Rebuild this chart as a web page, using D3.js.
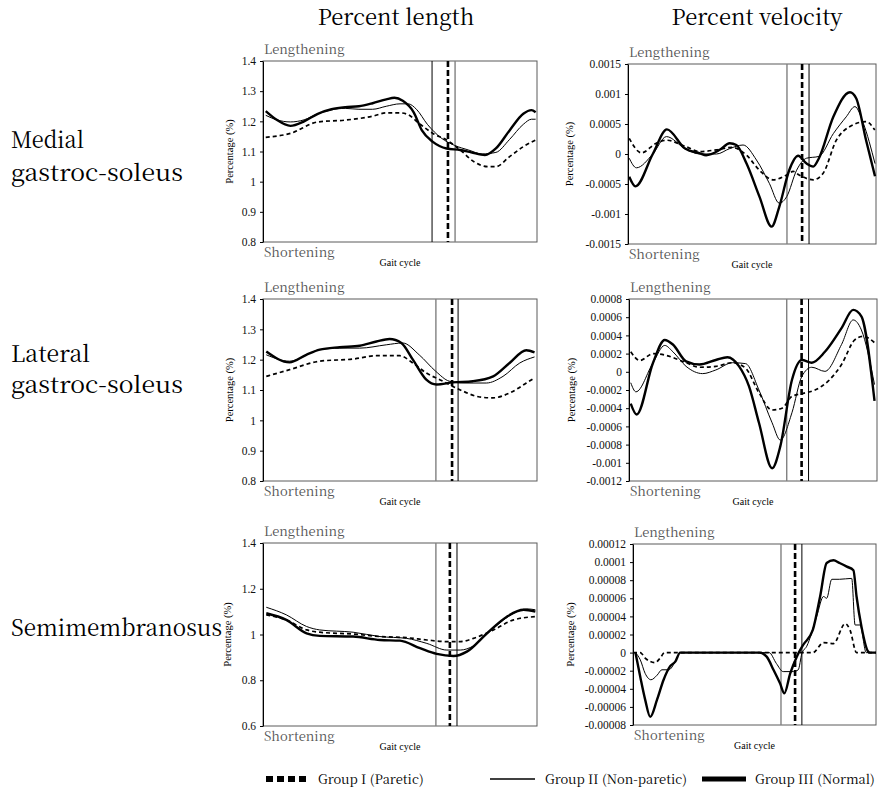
<!DOCTYPE html>
<html><head><meta charset="utf-8">
<script src="https://cdn.jsdelivr.net/npm/d3@7"></script>
<style>
body{margin:0;background:#fff}
svg{display:block}
</style>
</head><body>
<svg id="c" width="881" height="796"></svg>
<script>
// ---------------- DATA ----------------
const colTitles = ["Percent length", "Percent velocity"];
const rowLabels = [["Medial", "gastroc-soleus"], ["Lateral", "gastroc-soleus"], ["Semimembranosus"]];
const groupNames = ["Group I (Paretic)", "Group II (Non-paretic)", "Group III (Normal)"];
const topLabel = "Lengthening", bottomLabel = "Shortening", xTitle = "Gait cycle", yTitle = "Percentage (%)";

const lenTicks = [0.8, 0.9, 1.0, 1.1, 1.2, 1.3, 1.4];
const lenTickLabels = ["0.8", "0.9", "1", "1.1", "1.2", "1.3", "1.4"];
const mgVelTicks = [-0.0015, -0.001, -0.0005, 0, 0.0005, 0.001, 0.0015];
const mgVelTickLabels = ["-0.0015", "-0.001", "-0.0005", "0", "0.0005", "0.001", "0.0015"];
const lgVelTicks = [-0.0012, -0.001, -0.0008, -0.0006, -0.0004, -0.0002, 0, 0.0002, 0.0004, 0.0006, 0.0008];
const lgVelTickLabels = ["-0.0012", "-0.001", "-0.0008", "-0.0006", "-0.0004", "-0.0002", "0", "0.0002", "0.0004", "0.0006", "0.0008"];
const smLenTicks = [0.6, 0.8, 1.0, 1.2, 1.4];
const smLenTickLabels = ["0.6", "0.8", "1", "1.2", "1.4"];
const smVelTicks = [-0.00008, -0.00006, -0.00004, -0.00002, 0, 0.00002, 0.00004, 0.00006, 0.00008, 0.0001, 0.00012];
const smVelTickLabels = ["-0.00008", "-0.00006", "-0.00004", "-0.00002", "0", "0.00002", "0.00004", "0.00006", "0.00008", "0.0001", "0.00012"];

// [gait cycle %, value]
const mgLenG1 = [[1,1.147],[10,1.16],[20,1.198],[30,1.204],[40,1.217],[45,1.228],[50,1.228],[53,1.222],[57,1.193],[62,1.16],[67,1.138],[72,1.105],[77,1.066],[82,1.05],[85,1.05],[90,1.083],[95,1.116],[99.5,1.138]];
const mgLenG2 = [[1,1.22],[5,1.205],[10,1.198],[15,1.205],[20,1.225],[25,1.238],[30,1.243],[35,1.24],[40,1.24],[45,1.25],[50,1.258],[53,1.258],[56,1.24],[60,1.19],[65,1.145],[70,1.12],[75,1.105],[80,1.092],[85,1.097],[90,1.14],[95,1.19],[98,1.207],[99.5,1.207]];
const mgLenG3 = [[1,1.234],[5,1.205],[10,1.185],[15,1.2],[20,1.225],[25,1.24],[30,1.247],[35,1.25],[40,1.26],[45,1.273],[48,1.278],[51,1.268],[55,1.23],[58,1.17],[62,1.132],[67,1.11],[72,1.105],[76,1.097],[81,1.088],[85,1.11],[90,1.17],[95,1.225],[98,1.237],[99.5,1.23]];

// velocity values in units of 1e-4
const mgVelG1 = [[0.5,2.6],[5.4,0.2],[11.4,1.8],[15.5,2.3],[23.5,1.2],[29,0.4],[35.7,0.7],[42,1.1],[47.8,-0.2],[53,-2.7],[58.5,-4.3],[64,-3.5],[66.6,-2.9],[69,-3.5],[74.7,-4.3],[78.7,-3.2],[84,2.3],[89.5,4.6],[96,5.4],[99.5,4.0]];
const mgVelG2 = [[0.5,-0.7],[3.4,-2.3],[10,0],[15.5,2.9],[23,0.9],[29,0],[35.7,0],[41,0.9],[46.4,1.5],[51.8,-1.0],[57,-4.9],[61,-8.2],[64,-7.1],[68,-2.7],[72,-0.7],[77,-0.4],[82.8,3.4],[88,6.2],[91.5,7.9],[94.9,5.1],[99.6,-1.6]];
const mgVelG3 = [[0.5,-3.8],[3,-5.4],[10,0],[15.7,4.1],[23,0.9],[29,0.1],[31.5,-0.2],[37,0.7],[41,1.8],[43.7,1.5],[47.8,-1.6],[53,-7.1],[57.9,-12.1],[61,-8.8],[65,-2.7],[68.6,-0.3],[72,-1.6],[74.7,-2.1],[77,-0.7],[82.8,6.2],[89.5,10.3],[92,9.3],[96,2.3],[99.6,-3.7]];

const lgLenG1 = [[1.2,1.145],[9.7,1.167],[20.7,1.195],[32.8,1.202],[41.4,1.213],[49.9,1.213],[54.7,1.189],[59.6,1.156],[64.5,1.134],[71.8,1.101],[79.1,1.077],[83.9,1.074],[90,1.09],[96.1,1.123],[99.1,1.14]];
const lgLenG2 = [[1.2,1.216],[9.7,1.195],[20.7,1.233],[28,1.238],[35.3,1.238],[45,1.249],[51,1.255],[57,1.216],[63,1.162],[68,1.129],[73,1.123],[81.5,1.123],[87.6,1.145],[93.7,1.189],[99.1,1.209]];
const lgLenG3 = [[1.2,1.227],[9.7,1.191],[15.8,1.216],[20.7,1.233],[28,1.241],[35.3,1.246],[41.4,1.26],[46.2,1.268],[50.5,1.255],[54.7,1.2],[59.6,1.134],[63.3,1.118],[69.3,1.125],[76.6,1.129],[84,1.145],[90,1.189],[96.1,1.231],[99.1,1.224]];

const lgVelG1 = [[0.7,2.2],[4.4,1.25],[9.7,2.0],[15,1.8],[23,1.0],[28.4,0.5],[35,0.6],[41.7,1.0],[47,0.4],[52.4,-2.3],[57.7,-4.2],[61.7,-4.0],[65.7,-2.7],[69.7,-2.4],[75,-2.0],[80.4,-1.0],[85.7,0.8],[91,3.5],[94.4,3.9],[99,3.2]];
const lgVelG2 = [[0.7,-1.2],[2.8,-2.2],[9.7,1.0],[14.4,2.9],[17.7,2.2],[23,0.6],[29.7,-0.2],[35,0.2],[41.7,1.0],[47,0.9],[52.4,-2.0],[57.7,-5.6],[61,-7.5],[65.7,-4.5],[69.7,-0.5],[73.7,0.5],[79,0.05],[85.7,3.0],[90.4,5.7],[93.7,4.6],[99,-1.4]];
const lgVelG3 = [[0.7,-3.5],[3.1,-4.7],[9.7,1.0],[14.4,3.5],[17.7,3.0],[23,1.15],[28.4,0.8],[35,1.3],[39.7,1.6],[44.4,0.6],[48.4,-1.6],[52.4,-5.6],[57.7,-10.6],[61,-8.2],[65.7,-0.9],[69.7,1.3],[73.7,1.0],[79,2.2],[85.7,4.8],[90.4,6.8],[93.7,6.1],[99,-3.2]];

const smLenG1 = [[1.2,1.086],[8.5,1.064],[15.9,1.02],[20.7,1.01],[32.9,1.002],[42.7,0.991],[52.4,0.986],[59.8,0.976],[67.1,0.969],[72,0.969],[76.8,0.983],[84.1,1.02],[91.5,1.064],[99.4,1.078]];
const smLenG2 = [[1.2,1.119],[8.5,1.086],[15.9,1.035],[20.7,1.02],[32.9,1.01],[42.7,0.991],[52.4,0.983],[59.8,0.961],[67.1,0.932],[72,0.932],[76.8,0.95],[84.1,1.027],[91.5,1.093],[96.3,1.112],[99.4,1.108]];
const smLenG3 = [[1.2,1.093],[8.5,1.064],[15.9,1.005],[20.7,0.994],[32.9,0.991],[42.7,0.976],[50,0.973],[57.3,0.94],[63.4,0.915],[69.5,0.906],[74.4,0.925],[81.7,1.005],[89,1.078],[95.1,1.108],[99.4,1.1]];

// velocity values in units of 1e-5
const smVelG1 = [[0,0],[3,0],[5,-0.6],[9,-1.1],[11.2,-0.6],[13,0],[74,0],[78.4,1.1],[82.5,1.0],[87.3,3.2],[89.3,2.5],[92,0],[100,0]];
const smVelG2 = [[1,0],[3,-0.8],[5,-2.3],[7.4,-3.0],[9.9,-2.5],[11.9,-1.9],[14.7,-1.9],[17.4,-1.0],[19.4,0],[56,0],[59,-1.2],[61.8,-2.1],[66,-2.1],[68,-1.9],[69.5,-0.1],[71.5,0.7],[75.6,4.0],[78.4,6.2],[79.7,6.0],[81.8,8.1],[85,8.1],[90,8.2],[91.4,3.05],[93.4,3.05],[96,0],[100,0]];
const smVelG3 = [[1,0],[3,-2.7],[5,-5.2],[7.1,-7.1],[9.9,-5.2],[12.6,-3.0],[15.3,-1.5],[17.4,-1.0],[19.4,0],[52,0],[55,-0.45],[57.8,-1.9],[60.5,-3.4],[62.3,-4.5],[64.7,-2.3],[67.4,-0.45],[70,0.84],[74,2.5],[77,6.2],[79.7,9.9],[82.5,10.2],[85,9.9],[88,9.5],[90.7,9.1],[92,6.2],[94,2.9],[96.8,0.1],[97.5,0],[100,0]];

// toe-off markers (% gait cycle) for groups I, II, III
const mgLenToeOff = [67.5, 61.7, 70.1];
const mgVelToeOff = [70.2, 73.0, 64.1];
const lgLenToeOff = [69.0, 71.2, 63.1];
const lgVelToeOff = [69.6, 72.4, 63.6];
const smLenToeOff = [68.2, 70.8, 63.1];
const smVelToeOff = [66.7, 69.5, 60.9];

// ---------------- LAYOUT ----------------
const panels = [
  {x0:263,x1:537,y0:61,y1:242, dom:[0.8,1.4], k:1, ticks:lenTicks, labs:lenTickLabels, s:[mgLenG1,mgLenG2,mgLenG3], to:mgLenToeOff, ylx:230},
  {x0:628,x1:876,y0:64,y1:244, dom:[-0.0015,0.0015], k:1e-4, ticks:mgVelTicks, labs:mgVelTickLabels, s:[mgVelG1,mgVelG2,mgVelG3], to:mgVelToeOff, ylx:570},
  {x0:263,x1:537,y0:299,y1:481, dom:[0.8,1.4], k:1, ticks:lenTicks, labs:lenTickLabels, s:[lgLenG1,lgLenG2,lgLenG3], to:lgLenToeOff, ylx:230},
  {x0:629,x1:877,y0:299,y1:481, dom:[-0.0012,0.0008], k:1e-4, ticks:lgVelTicks, labs:lgVelTickLabels, s:[lgVelG1,lgVelG2,lgVelG3], to:lgVelToeOff, ylx:572},
  {x0:263,x1:537,y0:543,y1:726, dom:[0.6,1.4], k:1, ticks:smLenTicks, labs:smLenTickLabels, s:[smLenG1,smLenG2,smLenG3], to:smLenToeOff, ylx:228},
  {x0:633,x1:876,y0:544,y1:725, dom:[-0.00008,0.00012], k:1e-5, ticks:smVelTicks, labs:smVelTickLabels, s:[smVelG1,smVelG2,smVelG3], to:smVelToeOff, ylx:571}
];

const seriesStyle = [
  {w:1.7, dash:"4,3"},
  {w:1.0, dash:null},
  {w:2.4, dash:null}
];
const toeStyle = [
  {c:"#000", w:2.6, dash:"6,3"},
  {c:"#000", w:1.0, dash:null},
  {c:"#808080", w:1.4, dash:null}
];
const TIMES = "'Liberation Serif',serif";
const MYEONGJO = "'Noto Serif CJK KR','Liberation Serif',serif";

const svg = d3.select("#c");

panels.forEach(p => {
  const x = d3.scaleLinear().domain([0,100]).range([p.x0,p.x1]);
  const y = d3.scaleLinear().domain(p.dom).range([p.y1,p.y0]);
  const g = svg.append("g");
  g.append("rect").attr("x",p.x0).attr("y",p.y0).attr("width",p.x1-p.x0).attr("height",p.y1-p.y0)
    .attr("fill","none").attr("stroke","#5a5a5a").attr("stroke-width",1);
  const ax = d3.axisLeft(y).tickValues(p.ticks).tickFormat(d => p.labs[p.ticks.indexOf(d)])
    .tickSize(3).tickSizeOuter(0).tickPadding(4);
  const axg = g.append("g").attr("transform",`translate(${p.x0},0)`).call(ax);
  axg.select(".domain").attr("stroke","#000");
  axg.selectAll(".tick line").attr("stroke","#000");
  axg.selectAll(".tick text").style("font-family",TIMES).attr("font-size",11.5).attr("fill","#111");

  p.to.forEach((v,i) => {
    const st = toeStyle[i];
    g.append("line").attr("x1",x(v)).attr("x2",x(v)).attr("y1",p.y0).attr("y2",p.y1)
      .attr("stroke",st.c).attr("stroke-width",st.w).attr("stroke-dasharray",st.dash);
  });

  const line = d3.line().x(d => x(d[0])).y(d => y(d[1]*p.k)).curve(d3.curveMonotoneX);
  p.s.forEach((ser,i) => {
    const st = seriesStyle[i];
    g.append("path").datum(ser).attr("d",line).attr("fill","none").attr("stroke","#000")
      .attr("stroke-width",st.w).attr("stroke-dasharray",st.dash).attr("stroke-linejoin","round");
  });

  g.append("text").attr("x",p.x0+1).attr("y",p.y0-7).attr("font-size",13).attr("fill","#555")
    .style("font-family",MYEONGJO).text(topLabel);
  g.append("text").attr("x",p.x0+1).attr("y",p.y1+15).attr("font-size",13).attr("fill","#555")
    .style("font-family",MYEONGJO).text(bottomLabel);
  g.append("text").attr("x",(p.x0+p.x1)/2).attr("y",p.y1+24).attr("font-size",10).attr("text-anchor","middle").attr("fill","#000")
    .style("font-family",TIMES).text(xTitle);
  g.append("text").attr("transform",`translate(${p.ylx+3},${(p.y0+p.y1)/2}) rotate(-90)`)
    .attr("font-size",10.5).attr("text-anchor","middle").attr("fill","#000")
    .style("font-family",TIMES).text(yTitle);
});

// column titles
const colCenters = [396, 757];
colTitles.forEach((t,i) => {
  svg.append("text").attr("x",colCenters[i]).attr("y",25).attr("text-anchor","middle")
    .attr("font-size",22).attr("fill","#000").style("font-family",MYEONGJO).text(t);
});

// row labels
const rowBaselines = [[148,181],[362,393],[636]];
const rowWidths = [[73,172],[79,172],[211]];
rowLabels.forEach((lines,r) => {
  lines.forEach((t,j) => {
    svg.append("text").attr("x",11).attr("y",rowBaselines[r][j]).attr("font-size",23).attr("fill","#000")
      .attr("textLength",rowWidths[r][j]).attr("lengthAdjust","spacingAndGlyphs")
      .style("font-family",MYEONGJO).text(t);
  });
});

// legend
const legY = 779;
const leg = svg.append("g");
const legItems = [
  {x1:266,x2:308,w:6,dash:"7,4",tx:318},
  {x1:490,x2:535,w:1.5,dash:null,tx:545},
  {x1:702,x2:746,w:5,dash:null,tx:755}
];
legItems.forEach((it,i) => {
  leg.append("line").attr("x1",it.x1).attr("x2",it.x2).attr("y1",legY).attr("y2",legY)
    .attr("stroke","#000").attr("stroke-width",it.w).attr("stroke-dasharray",it.dash);
  leg.append("text").attr("x",it.tx).attr("y",legY+5).attr("font-size",13).attr("fill","#000")
    .style("font-family",MYEONGJO).text(groupNames[i]);
});
</script>
</body></html>
